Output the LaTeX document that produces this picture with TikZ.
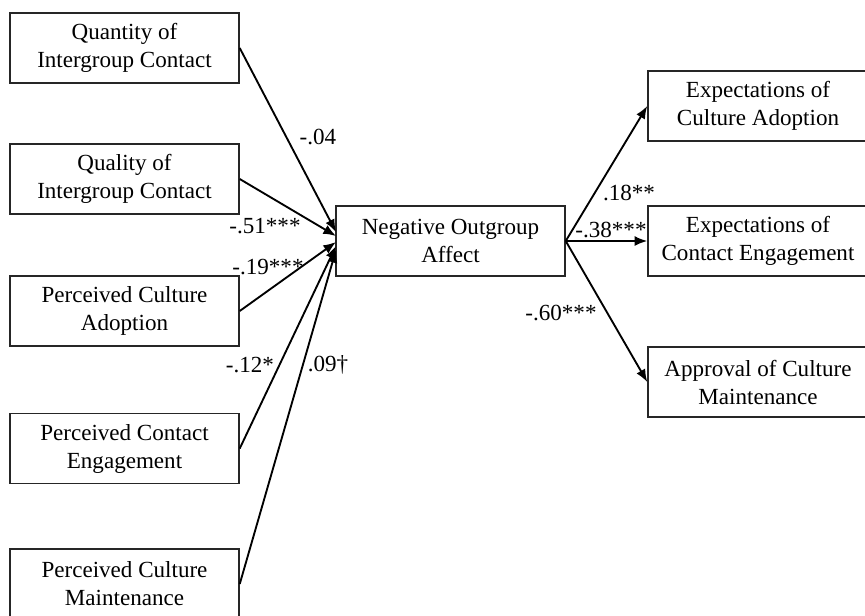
\documentclass[tikz,border=0pt]{standalone}
\usepackage{fontspec}
\setmainfont{Liberation Serif}
\usetikzlibrary{arrows.meta}
\begin{document}
\begin{tikzpicture}[x=0.75pt,y=-0.75pt,
  box/.style={draw=black!85,line width=1.1pt,inner sep=0pt,align=center,
    minimum width=171.75pt,minimum height=52.5pt,
    font=\fontsize{17.3}{21}\selectfont},
  wbox/.style={box,minimum width=165pt},
  lbl/.style={inner sep=0pt,font=\fontsize{17.3}{21}\selectfont},
  arr/.style={line width=1.4pt,-{Latex[length=9.5pt,width=7.5pt]}}]
\useasboundingbox (0,0) rectangle (865,615);
\clip (0,0) rectangle (865,615);
% left boxes
\node[box] (b1) at (124.5,48) {Quantity of\\Intergroup Contact};
\node[box] (b2) at (124.5,179) {Quality of\\Intergroup Contact};
\node[box] (b3) at (124.5,311) {Perceived Culture\\Adoption};
\node[box] (b4) at (124.5,448.5) {Perceived Contact\\Engagement};
\node[box] (b5) at (124.5,584) {Perceived Culture\\Maintenance};
% centre
\node[box] (neg) at (450.5,241) {Negative Outgroup\\Affect};
% right boxes
\node[wbox] (ea) at (758,106) {Expectations of\\Culture Adoption};
\node[wbox] (ec) at (758,241) {Expectations of\\Contact Engagement};
\node[wbox] (am) at (758,382) {Approval of Culture\\Maintenance};
% arrow targets on the left side of the centre box
\coordinate (t1) at (336,232);
\coordinate (t2) at (336,236);
\coordinate (t3) at (336,242);
\coordinate (t4) at (336,246);
\coordinate (t5) at (336,250);
\draw[arr] (b1.east) -- (t1);
\draw[arr] (b2.east) -- (t2);
\draw[arr] (b3.east) -- (t3);
\draw[arr] (b4.east) -- (t4);
\draw[arr] (b5.east) -- (t5);
\draw[arr] (neg.east) -- (ea.west);
\draw[arr] (neg.east) -- (ec.west);
\draw[arr] (neg.east) -- (am.west);
% labels
\node[lbl] (l1) at (318,137) {-.04};
\node[lbl] (l2) at (265,226) {-.51***};
\node[lbl] (l3) at (268,267) {-.19***};
\node[lbl] (l4) at (250,365) {-.12*};
\node[lbl] (l5) at (328,365) {.09†};
\node[lbl] (l6) at (629,193) {.18**};
\node[lbl] (l7) at (611,230) {-.38***};
\node[lbl] (l8) at (561,313) {-.60***};
\end{tikzpicture}
\end{document}
